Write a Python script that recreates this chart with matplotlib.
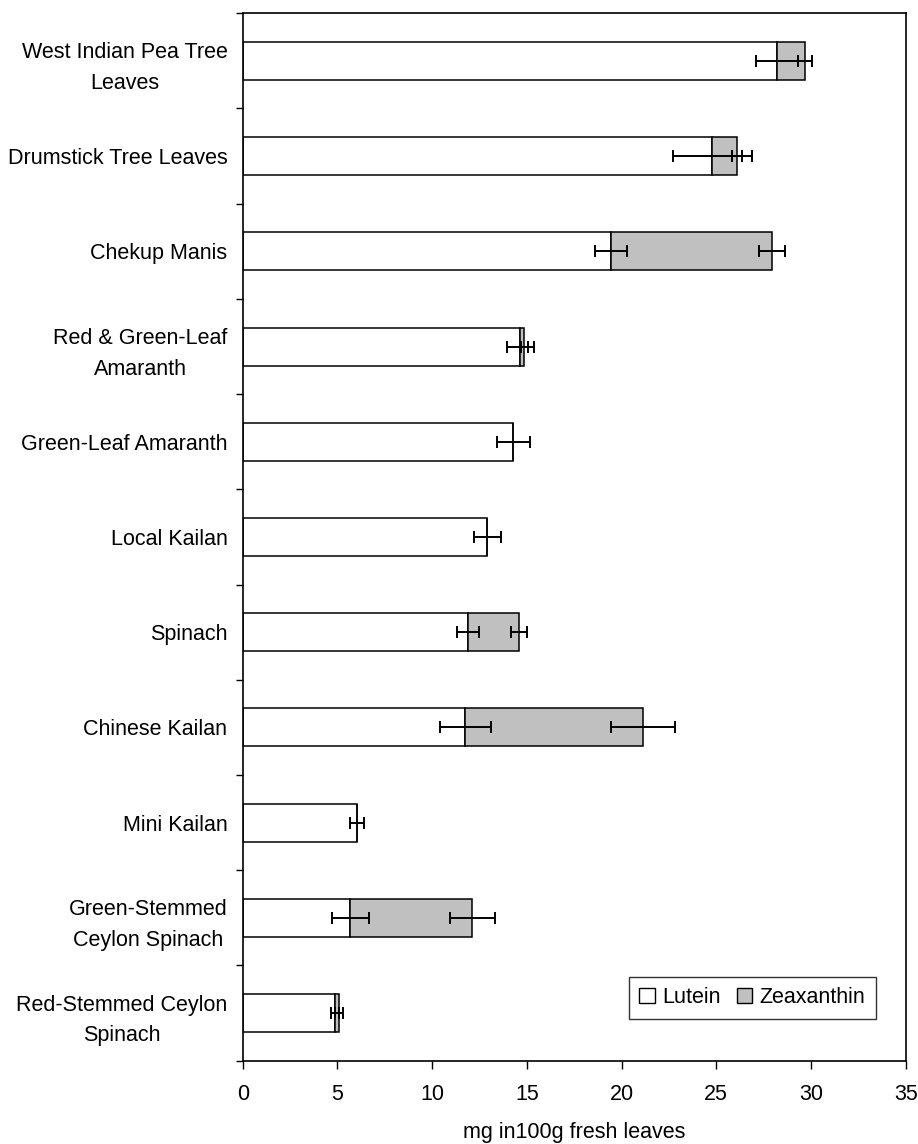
import numpy as np
import matplotlib
matplotlib.use("Agg")
import matplotlib.pyplot as plt
from matplotlib.patches import Patch

plt.rcParams['font.family'] = ['Liberation Sans', 'DejaVu Sans']

categories = [
    "West Indian Pea Tree\nLeaves",
    "Drumstick Tree Leaves",
    "Chekup Manis",
    "Red & Green-Leaf\nAmaranth",
    "Green-Leaf Amaranth",
    "Local Kailan",
    "Spinach",
    "Chinese Kailan",
    "Mini Kailan",
    "Green-Stemmed\nCeylon Spinach",
    "Red-Stemmed Ceylon\nSpinach",
]
lutein = [28.2, 24.8, 19.45, 14.66, 14.29, 12.92, 11.91, 11.74, 6.02, 5.67, 4.87]
zeaxanthin = [1.5, 1.3, 8.5, 0.21, 0.0, 0.0, 2.68, 9.38, 0.0, 6.45, 0.2]
lutein_err = [1.1, 2.1, 0.85, 0.72, 0.88, 0.72, 0.58, 1.35, 0.37, 0.98, 0.22]
zeaxanthin_err = [0.37, 0.25, 0.67, 0.2, np.nan, np.nan, 0.44, 1.7, np.nan, 1.2, 0.22]
xticks = [0, 5, 10, 15, 20, 25, 30, 35]
xlabel = "mg in100g fresh leaves"
legend_labels = ["Lutein", "Zeaxanthin"]

FS = 15.5
fig = plt.figure(figsize=(9.18, 11.44), dpi=100)
ax = fig.add_axes([0.2644, 0.0728, 0.9866 - 0.2644, 0.9884 - 0.0728])

y = np.arange(len(categories))
lut = np.array(lutein)
zea = np.array(zeaxanthin)
tot = lut + zea

ax.barh(y, lut, height=0.4, color='white', edgecolor='black', linewidth=1.1, zorder=2)
ax.barh(y, zea, left=lut, height=0.4, color='#C0C0C0', edgecolor='black', linewidth=1.1, zorder=2)

ekw = dict(fmt='none', ecolor='black', elinewidth=1.4, capsize=4.3, capthick=1.4, zorder=3)
ax.errorbar(lut, y, xerr=np.array(lutein_err), **ekw)
zerr = np.array(zeaxanthin_err)
mask = ~np.isnan(zerr)
ax.errorbar(tot[mask], y[mask], xerr=zerr[mask], **ekw)

ax.set_xlim(0, 35)
ax.set_ylim(len(categories) - 0.5, -0.5)

ax.set_xticks(xticks)
ax.set_xticklabels([str(t) for t in xticks], fontsize=FS)
ax.tick_params(axis='x', direction='out', length=6, width=1.0, pad=11, colors='black')

ax.set_yticks(np.arange(len(categories) + 1) - 0.5)
ax.set_yticklabels([])
ax.tick_params(axis='y', which='major', direction='out', length=5, width=1.0)
ax.set_yticks(y, minor=True)
ax.set_yticklabels(categories, minor=True, fontsize=FS, multialignment='center', linespacing=1.6)
ax.tick_params(axis='y', which='minor', length=0, pad=11)

for s in ax.spines.values():
    s.set_linewidth(1.2)
    s.set_color('black')

ax.set_xlabel(xlabel, fontsize=FS, labelpad=12)

handles = [Patch(facecolor='white', edgecolor='black', linewidth=1.0),
           Patch(facecolor='#C0C0C0', edgecolor='black', linewidth=1.0)]
leg = ax.legend(handles, legend_labels, loc='lower right', bbox_to_anchor=(0.955, 0.0398),
                ncol=2, fontsize=FS, frameon=True, fancybox=False,
                handlelength=0.7, handleheight=0.7, handletextpad=0.35, columnspacing=0.75,
                borderaxespad=0, borderpad=0.5)
leg.get_frame().set_edgecolor('black')
leg.get_frame().set_linewidth(1.0)

fig.savefig("out.png", dpi=100)
